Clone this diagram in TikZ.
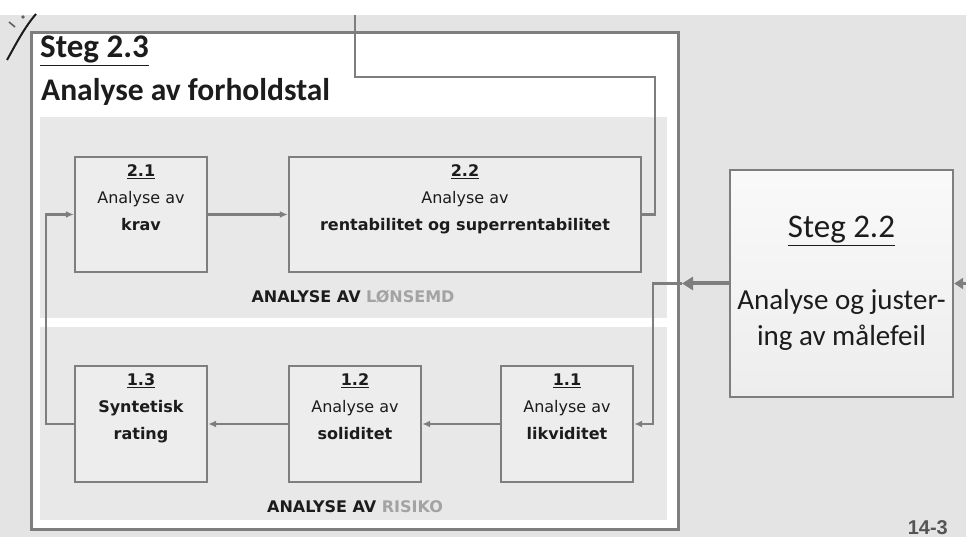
\documentclass[tikz,border=0pt]{standalone}
\usepackage{fontspec}
\setmainfont{DejaVu Sans}
\newfontfamily\calfont{Carlito}
\newfontfamily\arfont{Liberation Sans}
\usetikzlibrary{arrows.meta}

\definecolor{pagebg}{HTML}{E4E4E4}
\definecolor{bandbg}{HTML}{E8E8E8}
\definecolor{boxbg}{HTML}{EDEDED}
\definecolor{edge}{HTML}{7E7E7E}
\definecolor{ink}{HTML}{1C1C1C}
\definecolor{faint}{HTML}{A3A3A3}

\tikzset{
  proc/.style={draw=edge, line width=2.4pt, fill=boxbg, inner sep=0pt},
  boxtext/.style={font=\fontsize{16}{19}\selectfont, align=center, inner sep=0pt, text=ink},
  conn/.style={draw=edge, line width=2.2pt},
  tip/.style={-{Latex[length=8pt,width=7pt]}},
  bandlabel/.style={font=\bfseries\fontsize{16}{19}\selectfont, text=ink, inner sep=0pt, anchor=base},
}

\begin{document}
\begin{tikzpicture}[x=1pt, y=-1pt]
\useasboundingbox (0,0) rectangle (966,537);

% page background
\fill[white] (0,0) rectangle (966,537);
\fill[pagebg] (0,15) rectangle (966,537);

% stray mark in the upper left corner
\draw[ink, line width=2pt] (7,60) .. controls (16,44) and (24,28) .. (36,14);
\draw[ink!70, line width=1.6pt] (9,22) -- (15,27);
\fill[ink!70] (23,17) circle (1.8pt);

% outer panel
\draw[edge, line width=3pt, fill=white] (31,33) rectangle (678,529);

% bands
\fill[bandbg] (40,117) rectangle (667,318);
\fill[bandbg] (40,327) rectangle (667,520);

% titles
\node[anchor=base west, inner sep=0pt, text=ink,
      font=\calfont\bfseries\fontsize{33}{38}\selectfont] (h1) at (40,58) {\underline{Steg 2.3}};
\node[anchor=base west, inner sep=0pt, text=ink,
      font=\calfont\bfseries\fontsize{31.5}{38}\selectfont] (h2) at (41,101) {Analyse av forholdstal};

% process boxes
\node[proc, minimum width=132pt, minimum height=115pt] (b21) at (141,214.5) {};
\node[proc, minimum width=352pt, minimum height=115pt] (b22) at (465,214.5) {};
\node[proc, minimum width=132pt, minimum height=116pt] (b13) at (141,424) {};
\node[proc, minimum width=132pt, minimum height=116pt] (b12) at (355,424) {};
\node[proc, minimum width=132pt, minimum height=116pt] (b11) at (567,424) {};

\node[boxtext, anchor=north] (t21) at ([yshift=-9pt]b21.north)
  {\underline{\textbf{2.1}}\\[8pt]Analyse av\\[8pt]\textbf{krav}};
\node[boxtext, anchor=north] (t22) at ([yshift=-9pt]b22.north)
  {\underline{\textbf{2.2}}\\[8pt]Analyse av\\[8pt]\textbf{rentabilitet og superrentabilitet}};
\node[boxtext, anchor=north] (t13) at ([yshift=-9pt]b13.north)
  {\underline{\textbf{1.3}}\\[8pt]\textbf{Syntetisk}\\[8pt]\textbf{rating}};
\node[boxtext, anchor=north] (t12) at ([yshift=-9pt]b12.north)
  {\underline{\textbf{1.2}}\\[8pt]Analyse av\\[8pt]\textbf{soliditet}};
\node[boxtext, anchor=north] (t11) at ([yshift=-9pt]b11.north)
  {\underline{\textbf{1.1}}\\[8pt]Analyse av\\[8pt]\textbf{likviditet}};

% band captions
\node[bandlabel] (l1) at (353,302) {ANALYSE AV \textcolor{faint}{LØNSEMD}};
\node[bandlabel] (l2) at (355,512) {ANALYSE AV \textcolor{faint}{RISIKO}};

% step 2.2
\node[draw=edge, line width=2.4pt, top color=white!70!boxbg, bottom color=boxbg,
      minimum width=223pt, minimum height=227pt, align=center, text=ink,
      font=\calfont\fontsize{29}{36}\selectfont] (s22) at (841.5,283.5)
  {{\fontsize{33}{36}\selectfont\underline{Steg 2.2}}\\[36pt]Analyse og juster-\\ing av målefeil};

% page number
\node[anchor=base east, inner sep=0pt, text=ink!75, font=\arfont\bfseries\fontsize{20}{24}\selectfont] (pg) at (948,534) {14-3};

% connectors
\coordinate (up) at (355,15);
\coordinate (hook) at (682,283.5);
\coordinate (rin) at (966,283.5);

\draw[conn, tip] (b21.east) -- (b22.west);
\draw[conn] (b22.east) -| (655,77) -| (up);
\draw[conn, tip] (b11.west) -- (b12.east);
\draw[conn, tip] (b12.west) -- (b13.east);
\draw[conn, tip] (b13.west) -- (46,424) |- (b21.west);
\draw[conn, tip] (hook) -- (653,283.5) |- (b11.east);
\draw[draw=edge, line width=4pt, -{Triangle[length=11pt,width=13pt]}] (s22.west) -- (hook);
\draw[conn, -{Triangle[length=9pt,width=11pt]}] (rin) -- (s22.east);
\end{tikzpicture}
\end{document}
